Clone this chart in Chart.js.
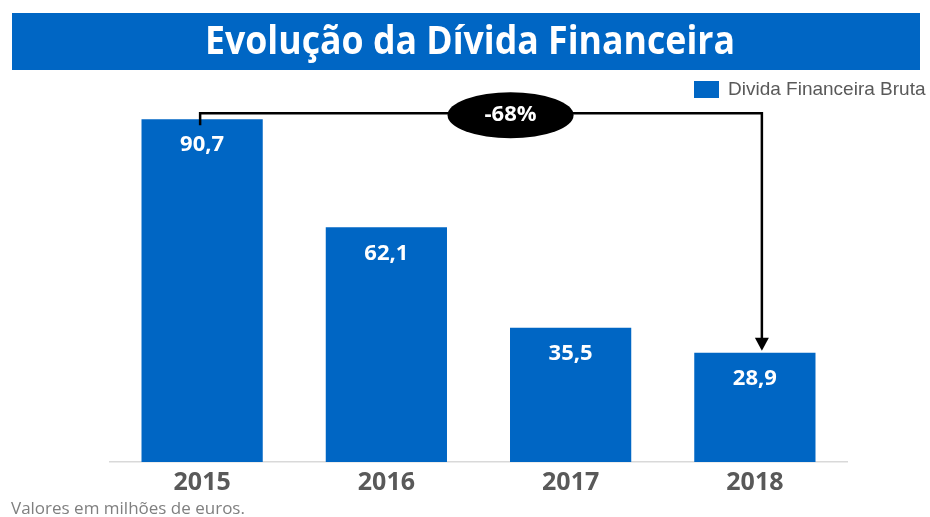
<!DOCTYPE html>
<html>
<head>
<meta charset="utf-8">
<script src="https://cdn.jsdelivr.net/npm/chart.js@4/dist/chart.umd.min.js"></script>
<style>
  html, body { margin: 0; padding: 0; background: #fff; }
  #wrap { width: 930px; height: 517px; position: relative; }
</style>
</head>
<body>
<div id="wrap"><canvas id="divChart" width="930" height="517"></canvas></div>
<script>
// dados (milhões de euros)
const years = ["2015", "2016", "2017", "2018"];
const dividaBruta = [90.7, 62.1, 35.5, 28.9];

const titleText = "Evolução da Dívida Financeira";
const seriesName = "Divida Financeira Bruta";
const footnote = "Valores em milhões de euros.";

const BLUE = "#0066C4";
const GREY_TXT = "#595959";

function fmt(v) {
  return v.toFixed(1).replace(".", ",");
}

// barra do título, legenda, rótulos e seta -68%
const decorPlugin = {
  id: "decor",
  beforeDraw(chart) {
    const ctx = chart.ctx;
    ctx.save();
    ctx.fillStyle = BLUE;
    ctx.fillRect(12, 13, 908, 57);

    // título (comprimido para parecer Calibri)
    ctx.font = "bold 40px 'Open Sans'";
    const w = ctx.measureText(titleText).width;
    const sx = 530 / w;
    ctx.translate(470, 43);
    ctx.scale(sx, 1);
    ctx.fillStyle = "#fff";
    ctx.textAlign = "center";
    ctx.textBaseline = "middle";
    ctx.fillText(titleText, 0, 0);
    ctx.restore();

    // legenda
    ctx.save();
    ctx.fillStyle = BLUE;
    ctx.fillRect(694, 81, 25, 17);
    ctx.fillStyle = GREY_TXT;
    ctx.font = "19px 'Liberation Sans'";
    ctx.textBaseline = "middle";
    ctx.textAlign = "left";
    ctx.fillText(seriesName, 728, 90);

    // nota de rodapé
    ctx.fillStyle = "#7f7f7f";
    ctx.font = "17px 'Open Sans'";
    ctx.fillText(footnote, 11, 509);
    ctx.restore();
  },
  afterDatasetsDraw(chart) {
    const ctx = chart.ctx;
    const bars = chart.getDatasetMeta(0).data;
    const area = chart.chartArea;
    ctx.save();

    // valores dentro das barras
    ctx.fillStyle = "#fff";
    ctx.font = "bold 22px 'Open Sans'";
    ctx.textAlign = "center";
    ctx.textBaseline = "middle";
    bars.forEach((b, i) => {
      ctx.fillText(fmt(dividaBruta[i]), b.x, b.y + 26);
    });

    // linha de ligação 2015 -> 2018
    const first = bars[0];
    const last = bars[bars.length - 1];
    const xa = first.x - 2;
    const xb = last.x + 7;
    const yl = first.y - 6;
    ctx.strokeStyle = "#000";
    ctx.lineWidth = 2.5;
    ctx.beginPath();
    ctx.moveTo(xa, first.y + 6);
    ctx.lineTo(xa, yl);
    ctx.lineTo(xb, yl);
    ctx.lineTo(xb, last.y - 14);
    ctx.stroke();
    ctx.fillStyle = "#000";
    ctx.beginPath();
    ctx.moveTo(xb - 7, last.y - 15);
    ctx.lineTo(xb + 7, last.y - 15);
    ctx.lineTo(xb, last.y - 2);
    ctx.closePath();
    ctx.fill();

    // elipse com a variação
    const pct = Math.round((dividaBruta[dividaBruta.length - 1] / dividaBruta[0] - 1) * 100);
    const cx = area.left + area.width * 0.5435;
    ctx.beginPath();
    ctx.ellipse(cx, yl + 2, 63, 23, 0, 0, Math.PI * 2);
    ctx.fill();
    ctx.fillStyle = "#fff";
    ctx.font = "bold 22px 'Open Sans'";
    ctx.fillText(pct + "%", cx, yl + 2);
    ctx.restore();
  },
};

new Chart(document.getElementById("divChart"), {
  type: "bar",
  data: {
    labels: years,
    datasets: [
      {
        label: seriesName,
        data: dividaBruta,
        backgroundColor: BLUE,
        categoryPercentage: 0.658,
        barPercentage: 1.0,
      },
    ],
  },
  options: {
    responsive: false,
    animation: false,
    layout: { padding: { left: 110, right: 83, top: 84, bottom: 13 } },
    plugins: {
      legend: { display: false },
      tooltip: { enabled: false },
    },
    scales: {
      x: {
        grid: { display: false, drawTicks: false },
        border: { display: true, color: "#d9d9d9", width: 1.5 },
        ticks: {
          color: GREY_TXT,
          padding: 6,
          font: { family: "'Open Sans'", size: 25, weight: "bold" },
        },
      },
      y: {
        display: false,
        min: 0,
        max: 100,
      },
    },
  },
  plugins: [decorPlugin],
});
</script>
</body>
</html>
